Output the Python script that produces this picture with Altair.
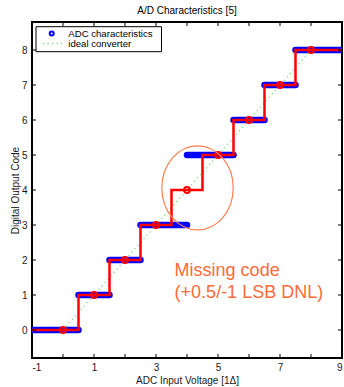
import altair as alt
import pandas as pd

# ADC transfer characteristic: output code and the input range that maps to it
adc_code = [0, 1, 2, 3, 5, 6, 7, 8]
adc_start = [-1.0, 0.5, 1.5, 2.5, 4.0, 5.5, 6.5, 7.5]
adc_end = [0.5, 1.5, 2.5, 4.0, 5.5, 6.5, 7.5, 9.0]

# Ideal staircase (transition points) and its code centres
ideal_step_x = [-1.0, 0.5, 1.5, 2.5, 3.5, 4.5, 5.5, 6.5, 7.5, 9.0]
ideal_step_y = [0, 1, 2, 3, 4, 5, 6, 7, 8, 8]
ideal_centre = [0, 1, 2, 3, 4, 5, 6, 7, 8]

# Ideal (infinite resolution) converter line
ideal_line_x = [0.0, 8.0]
ideal_line_y = [0.0, 8.0]

# Tick values
x_ticks = [-1, 0, 1, 2, 3, 4, 5, 6, 7, 8, 9]
y_ticks = [0, 1, 2, 3, 4, 5, 6, 7, 8]

# Annotation: highlighted region and note
mark_x = [4.34]
mark_y = [4.06]
note_lines = ["Missing code", "(+0.5/-1 LSB DNL)"]
note_x = [3.6, 3.6]
note_y = [1.69, 1.05]

W, H = 310, 336
FONT = "Liberation Sans"
CORAL = "#ff6a3a"
MINUS_FIX = "replace(datum.label, '\u2212', '-')"

xs = alt.Scale(domain=[-1, 9], nice=False, zero=False)
ys = alt.Scale(domain=[-0.8, 8.8], nice=False, zero=False)

adc_df = pd.DataFrame({"code": adc_code, "start": adc_start, "end": adc_end})
step_df = pd.DataFrame({"x": ideal_step_x, "y": ideal_step_y})
centre_df = pd.DataFrame({"x": ideal_centre, "y": ideal_centre})
line_df = pd.DataFrame({"x": ideal_line_x, "y": ideal_line_y})
mark_df = pd.DataFrame({"x": mark_x, "y": mark_y})
note_df = pd.DataFrame({"t": note_lines, "x": note_x, "y": note_y})
xt_df = pd.DataFrame({"v": x_ticks})
yt_df = pd.DataFrame({"v": y_ticks})

x_axis = alt.Axis(values=x_ticks, title="ADC Input Voltage  [1\u0394]", domain=False,
                  ticks=False, tickSize=0, grid=False, labelPadding=4,
                  labelExpr=MINUS_FIX,
                  titleBaseline="middle", titleX=W / 2, titleY=22)
y_axis = alt.Axis(values=y_ticks, title="Digital Output Code", domain=False,
                  ticks=False, tickSize=0, grid=False, labelPadding=5,
                  titleBaseline="middle", titleX=-17, titleY=168)

# Blue band: ADC characteristic
adc = alt.Chart(adc_df).mark_rule(
    color="#0000ff", strokeWidth=6.5, strokeCap="round", clip=True
).encode(
    x=alt.X("start:Q", scale=xs, axis=x_axis),
    x2="end:Q",
    y=alt.Y("code:Q", scale=ys, axis=y_axis),
)

# Dotted ideal converter line
ideal_line = alt.Chart(line_df).mark_line(
    color="#7fe07f", strokeWidth=1.3, strokeDash=[1.3, 3.2]
).encode(x=alt.X("x:Q", scale=xs), y=alt.Y("y:Q", scale=ys))

# Red ideal staircase
steps = alt.Chart(step_df).mark_line(
    color="#ff0000", strokeWidth=2.5, interpolate="step-after", clip=True
).encode(x=alt.X("x:Q", scale=xs), y=alt.Y("y:Q", scale=ys))

centres = alt.Chart(centre_df).mark_point(
    color="#ff0000", filled=False, size=34, strokeWidth=2, opacity=1
).encode(x=alt.X("x:Q", scale=xs), y=alt.Y("y:Q", scale=ys))

# Highlight ellipse drawn as a custom symbol
ellipse = alt.Chart(mark_df).mark_point(
    shape="M -0.85 0 A 0.85 1 0 1 0 0.85 0 A 0.85 1 0 1 0 -0.85 0 Z",
    size=7056, filled=False, stroke="#ff7f50", strokeWidth=1.2, opacity=1
).encode(x=alt.X("x:Q", scale=xs), y=alt.Y("y:Q", scale=ys))

note = alt.Chart(note_df).mark_text(
    color=CORAL, fontSize=18, font=FONT, align="left", baseline="middle"
).encode(x=alt.X("x:Q", scale=xs), y=alt.Y("y:Q", scale=ys), text="t:N")

# Inward ticks on all four sides
tick_style = dict(color="black", strokeWidth=1)
t_bottom = alt.Chart(xt_df).mark_rule(**tick_style).encode(
    x=alt.X("v:Q", scale=xs), y=alt.value(H), y2=alt.value(H - 4))
t_top = alt.Chart(xt_df).mark_rule(**tick_style).encode(
    x=alt.X("v:Q", scale=xs), y=alt.value(0), y2=alt.value(4))
t_left = alt.Chart(yt_df).mark_rule(**tick_style).encode(
    y=alt.Y("v:Q", scale=ys), x=alt.value(0), x2=alt.value(4))
t_right = alt.Chart(yt_df).mark_rule(**tick_style).encode(
    y=alt.Y("v:Q", scale=ys), x=alt.value(W), x2=alt.value(W - 4))

# Legend box
leg_box = alt.Chart(pd.DataFrame({"k": [0]})).mark_rect(
    fill="white", stroke="black", strokeWidth=1
).encode(x=alt.value(4), x2=alt.value(129.5), y=alt.value(4.7), y2=alt.value(29.7))
leg_sym = alt.Chart(pd.DataFrame({"k": [0]})).mark_point(
    color="#0000ff", filled=False, size=16, strokeWidth=2, opacity=1
).encode(x=alt.value(19.7), y=alt.value(11.5))
leg_dots = alt.Chart(pd.DataFrame({"k": [0]})).mark_rule(
    color="#7fe07f", strokeWidth=1.3, strokeDash=[1.3, 3.2]
).encode(x=alt.value(11), x2=alt.value(30), y=alt.value(21.5))
leg_text = alt.Chart(pd.DataFrame({
    "t": ["ADC characteristics", "ideal converter"], "py": [11.8, 21.6]
})).mark_text(
    align="left", baseline="middle", fontSize=9.6, font=FONT, color="black"
).encode(x=alt.value(36.3), y=alt.Y("py:Q", scale=None), text="t:N")

chart = alt.layer(
    adc, ideal_line, steps, centres, ellipse, note,
    t_bottom, t_top, t_left, t_right,
    leg_box, leg_sym, leg_dots, leg_text,
).properties(
    width=W, height=H,
    title=alt.Title("A/D Characteristics [5]", fontSize=10, font=FONT,
                    fontWeight="normal", color="black", offset=6, anchor="middle"),
    autosize=alt.AutoSizeParams(type="none"),
    padding={"left": 32, "top": 22, "right": 2, "bottom": 29},
).configure_view(
    stroke="black", strokeWidth=2
).configure_axis(
    labelFont=FONT, labelFontSize=10, labelColor="#1a1a1a",
    titleFont=FONT, titleFontSize=10, titleFontWeight="normal", titleColor="#1a1a1a",
)

chart.save("out.html", embed_options={"renderer": "svg", "actions": False})
